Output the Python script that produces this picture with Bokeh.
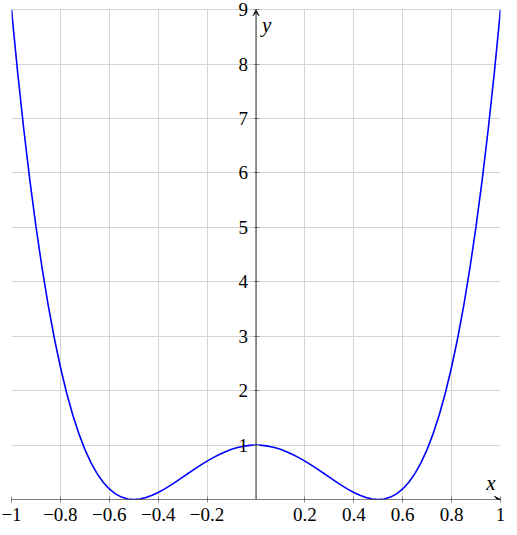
from bokeh.plotting import figure
from bokeh.models import (Range1d, LinearAxis, FixedTicker, Arrow, VeeHead, Label,
                          CustomJSTickFormatter)
from bokeh.embed import file_html
from bokeh.resources import INLINE

# curve samples
x_vals = [-1.0, -0.975, -0.95, -0.925, -0.9, -0.875, -0.85, -0.825, -0.8, -0.775,
          -0.75, -0.725, -0.7, -0.675, -0.65, -0.625, -0.6, -0.575, -0.55, -0.525,
          -0.5, -0.475, -0.45, -0.425, -0.4, -0.375, -0.35, -0.325, -0.3, -0.275,
          -0.25, -0.225, -0.2, -0.175, -0.15, -0.125, -0.1, -0.075, -0.05, -0.025,
          0.0, 0.025, 0.05, 0.075, 0.1, 0.125, 0.15, 0.175, 0.2, 0.225,
          0.25, 0.275, 0.3, 0.325, 0.35, 0.375, 0.4, 0.425, 0.45, 0.475,
          0.5, 0.525, 0.55, 0.575, 0.6, 0.625, 0.65, 0.675, 0.7, 0.725,
          0.75, 0.775, 0.8, 0.825, 0.85, 0.875, 0.9, 0.925, 0.95, 0.975, 1.0]
y_vals = [9.0, 7.854, 6.812, 5.868, 5.018, 4.254, 3.572, 2.967, 2.434, 1.967,
          1.5625, 1.2155, 0.9216, 0.6765, 0.4761, 0.3164, 0.1936, 0.104, 0.0441, 0.0105,
          0.0, 0.0095, 0.0361, 0.077, 0.1296, 0.1914, 0.2601, 0.3335, 0.4096, 0.4865,
          0.5625, 0.636, 0.7056, 0.77, 0.8281, 0.8789, 0.9216, 0.9555, 0.9801, 0.995,
          1.0, 0.995, 0.9801, 0.9555, 0.9216, 0.8789, 0.8281, 0.77, 0.7056, 0.636,
          0.5625, 0.4865, 0.4096, 0.3335, 0.2601, 0.1914, 0.1296, 0.077, 0.0361, 0.0095,
          0.0, 0.0105, 0.0441, 0.104, 0.1936, 0.3164, 0.4761, 0.6765, 0.9216, 1.2155,
          1.5625, 1.967, 2.434, 2.967, 3.572, 4.254, 5.018, 5.868, 6.812, 7.854, 9.0]

x_ticks = [-1, -0.8, -0.6, -0.4, -0.2, 0.2, 0.4, 0.6, 0.8, 1]
x_grid = [-1, -0.8, -0.6, -0.4, -0.2, 0, 0.2, 0.4, 0.6, 0.8, 1]
y_ticks = [1, 2, 3, 4, 5, 6, 7, 8, 9]
x_label = "x"
y_label = "y"

FONT = "Liberation Serif"

p = figure(frame_width=489, frame_height=498,
           x_range=Range1d(-1, 1), y_range=Range1d(0, 9.15),
           x_axis_location=None, y_axis_location=None,
           output_backend="svg", toolbar_location=None,
           min_border_left=11, min_border_top=1, min_border_right=12, min_border_bottom=32)
p.outline_line_color = None
p.background_fill_color = "white"
p.border_fill_color = "white"

fmt = CustomJSTickFormatter(code="""
  var s = (Math.round(tick*10)/10).toString();
  return s.replace('-', '\u2212');
""")

xaxis = LinearAxis(ticker=FixedTicker(ticks=x_ticks), formatter=fmt)
xaxis.axis_line_color = None
xaxis.major_tick_line_color = "#888888"
xaxis.major_tick_in = 3
xaxis.major_tick_out = 3
xaxis.minor_tick_line_color = None
xaxis.major_label_standoff = 5
xaxis.major_label_text_font = FONT
xaxis.major_label_text_font_size = "19px"
xaxis.major_label_text_color = "black"
p.add_layout(xaxis, "below")

yaxis = LinearAxis(ticker=FixedTicker(ticks=y_ticks), fixed_location=0, formatter=fmt)
yaxis.axis_line_color = None
yaxis.major_tick_line_color = "#888888"
yaxis.major_tick_in = 3
yaxis.major_tick_out = 3
yaxis.minor_tick_line_color = None
yaxis.major_label_standoff = 5
yaxis.major_label_text_font = FONT
yaxis.major_label_text_font_size = "19px"
yaxis.major_label_text_color = "black"
p.add_layout(yaxis, "left")

p.xgrid.ticker = FixedTicker(ticks=x_grid)
p.ygrid.ticker = FixedTicker(ticks=y_ticks)
p.xgrid.cross_bounds = (0, 9)
p.ygrid.cross_bounds = (-1, 1)
p.xgrid.grid_line_color = "#d4d4d4"
p.ygrid.grid_line_color = "#d4d4d4"
p.xgrid.grid_line_width = 1
p.ygrid.grid_line_width = 1

p.line(x_vals, y_vals, line_color="#0000ff", line_width=1.6)

p.add_layout(Arrow(x_start=-1, y_start=0, x_end=1, y_end=0, line_color="black", line_width=1,
                   end=VeeHead(size=6, line_color="black", line_width=1)))
p.add_layout(Arrow(x_start=0, y_start=0, x_end=0, y_end=9, line_color="#333333", line_width=1,
                   end=VeeHead(size=6, line_color="#333333", line_width=1)))

p.add_layout(Label(x=1, y=0, x_offset=-5, y_offset=5, text=x_label, text_align="right",
                   text_baseline="bottom", text_font=FONT, text_font_style="italic",
                   text_font_size="21px", text_color="black"))
p.add_layout(Label(x=0, y=9, x_offset=6, y_offset=-3, text=y_label, text_align="left",
                   text_baseline="top", text_font=FONT, text_font_style="italic",
                   text_font_size="21px", text_color="black"))

open("out.html", "w").write(file_html(p, INLINE))
